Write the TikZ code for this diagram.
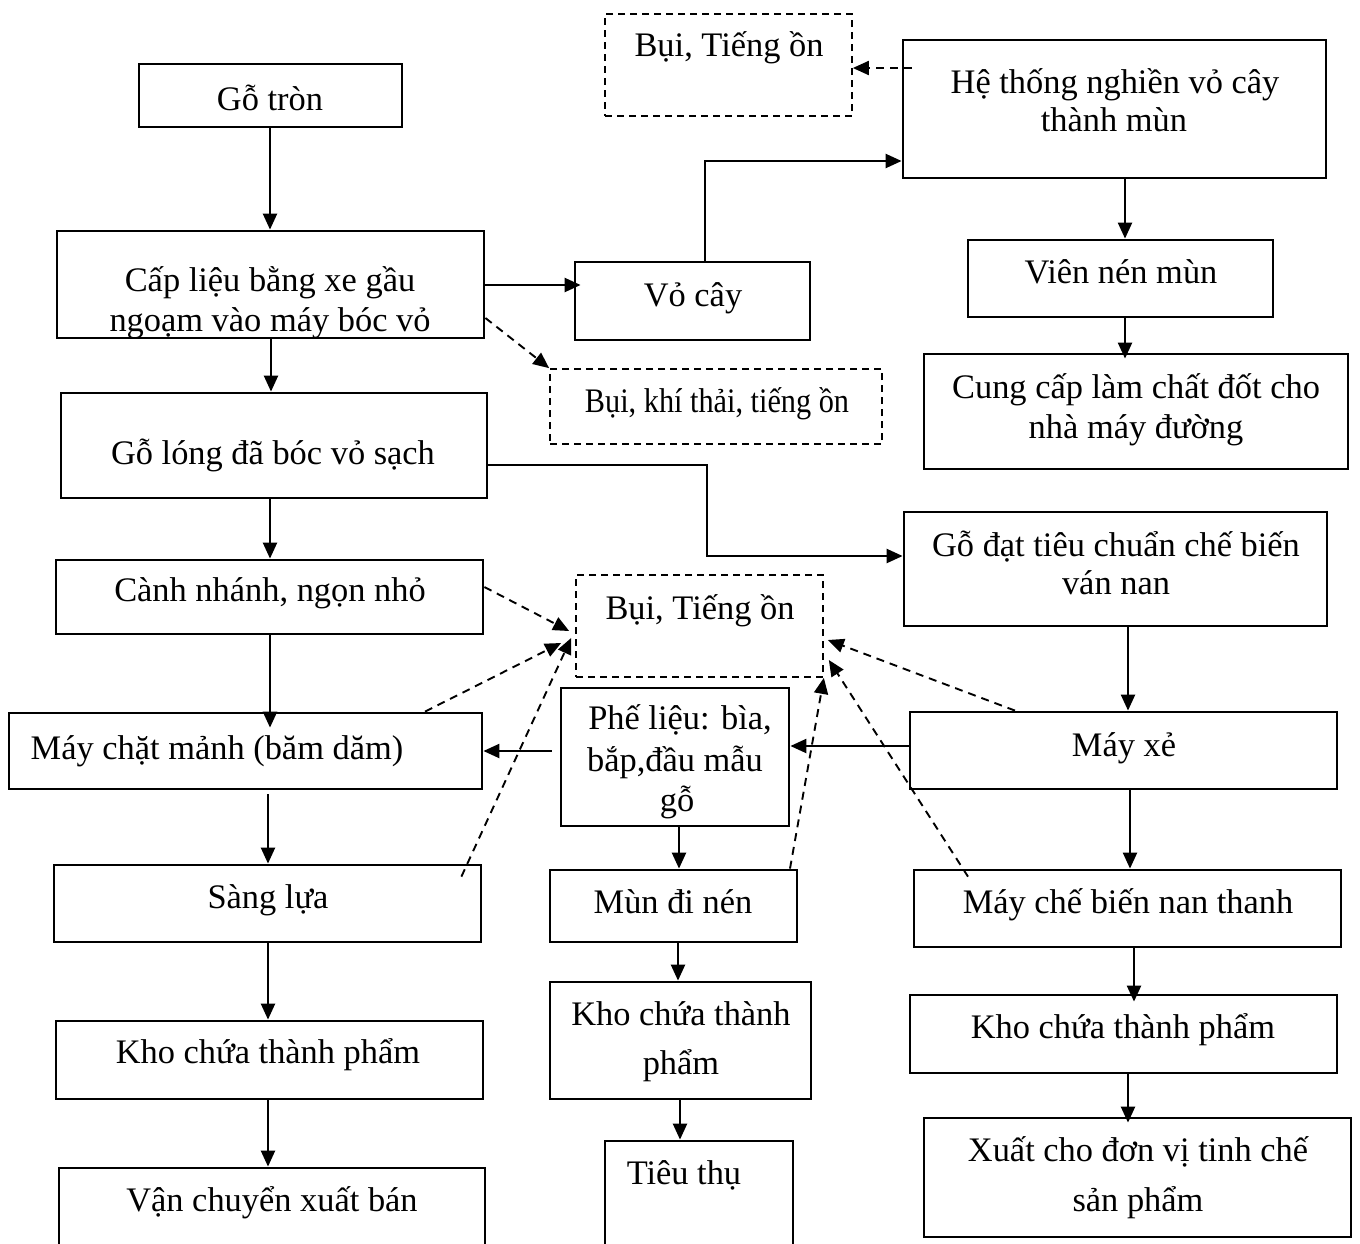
\documentclass[tikz,border=0pt]{standalone}
\usepackage{fontspec}
\usepackage{graphicx}
\setmainfont{Liberation Serif}
\usetikzlibrary{arrows.meta,fit,calc}
\newcommand{\fs}{\fontsize{17.2pt}{20pt}\selectfont}
\newcommand{\boxat}[6][box]{\node[#1, fit={(#3,#4) (#5,#6)}] (#2) {};}
\begin{document}
\begin{tikzpicture}[x=0.5pt,y=-0.5pt,
  box/.style={draw, line width=1.4pt, inner sep=0pt},
  dbox/.style={draw, dash pattern=on 3.5pt off 2.5pt, line width=0.85pt, inner sep=0pt},
  txt/.style={anchor=base, inner sep=0pt, font=\fs},
  arr/.style={line width=1.15pt, -{Triangle[length=8pt,width=7pt]}},
  darr/.style={line width=0.95pt, dash pattern=on 4pt off 3pt, -{Triangle[length=8pt,width=7pt]}}]
\useasboundingbox (0,0) rectangle (1360,1243);

% ---- left column: round logs to chips ----
\boxat{gotron}{139}{64}{402}{127}
\node[txt] at (270,110) {Gỗ tròn};
\boxat{caplieu}{57}{231}{484}{338}
\node[txt] at (270,291) {Cấp liệu bằng xe gầu};
\node[txt] at (270,331) {ngoạm vào máy bóc vỏ};
\boxat{golong}{61}{393}{487}{498}
\node[txt] at (273,464) {Gỗ lóng đã bóc vỏ sạch};
\boxat{canh}{56}{560}{483}{634}
\node[txt] at (270,601) {Cành nhánh, ngọn nhỏ};
\boxat{maychat}{9}{713}{482}{789}
\node[txt] at (217,759) {Máy chặt mảnh (băm dăm)};
\boxat{sang}{54}{865}{481}{942}
\node[txt] at (268,908) {Sàng lựa};
\boxat{khol}{56}{1021}{483}{1099}
\node[txt] at (268,1063) {Kho chứa thành phẩm};
\boxat{van}{59}{1168}{485}{1250}
\node[txt] at (272,1211) {Vận chuyển xuất bán};

% ---- middle column ----
\boxat[dbox]{buitop}{605}{14}{852}{116}
\node[txt] at (729,56) {Bụi, Tiếng ồn};
\boxat{vocay}{575}{262}{810}{340}
\node[txt] at (693,306) {Vỏ cây};
\boxat[dbox]{buikhi}{550}{369}{882}{444}
\node[txt] at (717,412) {\scalebox{0.88}[1]{Bụi, khí thải, tiếng ồn}};
\boxat[dbox]{buimid}{576}{575}{823}{677}
\node[txt] at (700,619) {Bụi, Tiếng ồn};
\boxat{phe}{561}{688}{789}{826}
\node[txt] at (680,729) {Phế liệu: bìa,};
\node[txt] at (675,771) {bắp,đầu mẫu};
\node[txt] at (677,811) {gỗ};
\boxat{mun}{550}{870}{797}{942}
\node[txt] at (673,913) {Mùn đi nén};
\boxat{khom}{550}{982}{811}{1099}
\node[txt] at (681,1025) {Kho chứa thành};
\node[txt] at (681,1074) {phẩm};
\boxat{tieu}{605}{1141}{793}{1250}
\node[txt] at (684,1184) {Tiêu thụ};

% ---- right column ----
\boxat{hethong}{903}{40}{1326}{178}
\node[txt] at (1115,93) {Hệ thống nghiền vỏ cây};
\node[txt] at (1114,131) {thành mùn};
\boxat{vien}{968}{240}{1273}{317}
\node[txt] at (1121,283) {Viên nén mùn};
\boxat{cung}{924}{354}{1348}{469}
\node[txt] at (1136,398) {Cung cấp làm chất đốt cho};
\node[txt] at (1136,438) {nhà máy đường};
\boxat{godat}{904}{512}{1327}{626}
\node[txt] at (1116,556) {Gỗ đạt tiêu chuẩn chế biến};
\node[txt] at (1116,594) {ván nan};
\boxat{mayxe}{910}{712}{1337}{789}
\node[txt] at (1124,756) {Máy xẻ};
\boxat{mcb}{914}{870}{1341}{947}
\node[txt] at (1128,913) {Máy chế biến nan thanh};
\boxat{khor}{910}{995}{1337}{1073}
\node[txt] at (1123,1038) {Kho chứa thành phẩm};
\boxat{xuat}{924}{1118}{1351}{1237}
\node[txt] at (1138,1161) {Xuất cho đơn vị tinh chế};
\node[txt] at (1138,1211) {sản phẩm};

% ---- main flow ----
\draw[arr] (270,0 |- gotron.south) -- (270,0 |- caplieu.north);
\draw[arr] (271,0 |- caplieu.south) -- (271,0 |- golong.north);
\draw[arr] (270,0 |- golong.south) -- (270,0 |- canh.north);
\draw[arr] (270,0 |- canh.south) -- ($(270,0 |- maychat.north)+(0,16)$);
\draw[arr] ($(268,0 |- maychat.south)+(0,4)$) -- (268,0 |- sang.north);
\draw[arr] (268,0 |- sang.south) -- (268,0 |- khol.north);
\draw[arr] (268,0 |- khol.south) -- (268,0 |- van.north);

\draw[arr] (caplieu.east |- 0,285) -- ($(vocay.west |- 0,285)+(7,0)$);
\draw[arr] (705,0 |- vocay.north) |- (hethong.west |- 0,161);
\draw[arr] (1125,0 |- hethong.south) -- (1125,0 |- vien.north);
\draw[arr] (1125,0 |- vien.south) -- ($(1125,0 |- cung.north)+(0,6)$);

\draw[arr] (golong.east |- 0,465) -| (707,556) -- (godat.west |- 0,556);
\draw[arr] (1128,0 |- godat.south) -- (1128,0 |- mayxe.north);
\draw[arr] (1130,0 |- mayxe.south) -- (1130,0 |- mcb.north);
\draw[arr] (1134,0 |- mcb.south) -- ($(1134,0 |- khor.north)+(0,8)$);
\draw[arr] (1128,0 |- khor.south) -- ($(1128,0 |- xuat.north)+(0,6)$);

\draw[arr] (mayxe.west |- 0,746) -- (phe.east |- 0,746);
\draw[arr] ($(phe.west |- 0,751)+(-8,0)$) -- (maychat.east |- 0,751);
\draw[arr] (679,0 |- phe.south) -- (679,0 |- mun.north);
\draw[arr] (678,0 |- mun.south) -- (678,0 |- khom.north);
\draw[arr] (680,0 |- khom.south) -- (680,0 |- tieu.north);

% ---- emissions ----
\draw[darr] ($(hethong.west |- 0,68)+(10,0)$) -- (buitop.east |- 0,68);
\draw[darr] (caplieu.east |- 0,318) -- (buikhi.north west);

\draw[darr] (canh.east |- 0,587) -- ($(buimid.west)+(-6,5)$);
\draw[darr] (425,0 |- maychat.north) -- ($(buimid.west)+(-14,17)$);
\draw[darr] ($(sang.north east)+(-21,13)$) -- ($(buimid.west)+(-4,12)$);
\draw[darr] (1015,0 |- mayxe.north) -- ($(buimid.east)+(4,14)$);
\draw[darr] ($(968,0 |- mcb.north)+(0,8)$) -- ($(buimid.east)+(5,34)$);
\draw[darr] (790,0 |- mun.north) -- (buimid.south east);
\end{tikzpicture}
\end{document}
